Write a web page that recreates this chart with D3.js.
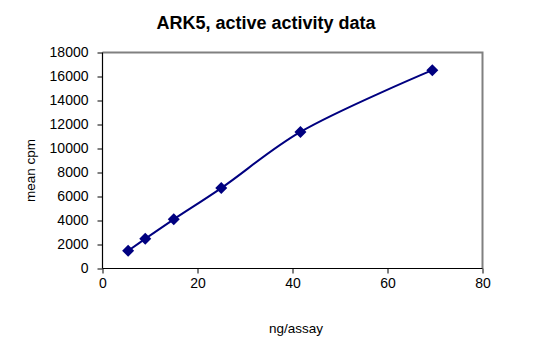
<!DOCTYPE html>
<html>
<head>
  <title>ARK5, active activity data</title>
  <script src="https://d3js.org/d3.v7.min.js"></script>
  <style>
    body { margin: 0; background: #fff; }
    text { font-family: "Liberation Sans", Arial, sans-serif; fill: #000; }
  </style>
</head>
<body>
  <svg id="chart" width="546" height="352"></svg>
  <script>
    // ng/assay (5/3 dilution series) and mean cpm
    const ngAssay = [5.4, 9, 15, 25, 41.67, 69.44];
    const meanCpm = [1480, 2480, 4100, 6700, 11380, 16530];
    const xTicks = [0, 20, 40, 60, 80];
    const yTicks = [0, 2000, 4000, 6000, 8000, 10000, 12000, 14000, 16000, 18000];

    const svg = d3.select("#chart");
    const plotL = 102.5, plotR = 482.5, plotT = 52.5, plotB = 268.5;

    const x = d3.scaleLinear().domain([0, 80]).range([plotL, plotR]);
    const y = d3.scaleLinear().domain([0, 18000]).range([plotB, plotT]);

    // title
    svg.append("text")
      .attr("x", 266).attr("y", 29)
      .attr("text-anchor", "middle")
      .style("font-size", "18px").style("font-weight", "bold")
      .text("ARK5, active activity data");

    // plot frame (top + right in grey)
    svg.append("path")
      .attr("d", `M${plotL},${plotT}H${plotR}V${plotB}`)
      .attr("fill", "none").attr("stroke", "#808080").attr("stroke-width", 2);

    // axes
    const yAxis = svg.append("g")
      .attr("transform", `translate(${plotL},0)`)
      .call(d3.axisLeft(y).tickValues(yTicks).tickSize(5).tickPadding(9).tickFormat(d3.format("d")));
    const xAxis = svg.append("g")
      .attr("transform", `translate(0,${plotB})`)
      .call(d3.axisBottom(x).tickValues(xTicks).tickSize(5).tickPadding(5).tickFormat(d3.format("d")));
    [xAxis, yAxis].forEach(g => {
      g.attr("font-family", null);
      g.select(".domain").attr("stroke", "#000").attr("stroke-width", 1.2);
      g.selectAll(".tick line").attr("stroke", "#000");
      g.selectAll("text").style("font-size", "14px");
    });
    xAxis.select(".domain").attr("d", `M${plotL},0H${plotR}`);
    yAxis.select(".domain").attr("d", `M0,${plotB}V${plotT}`);

    // axis titles
    svg.append("text")
      .attr("transform", `translate(35,${(plotT + plotB) / 2 + 10}) rotate(-90)`)
      .attr("text-anchor", "middle")
      .style("font-size", "13.5px")
      .text("mean cpm");
    svg.append("text")
      .attr("x", 296).attr("y", 333)
      .attr("text-anchor", "middle")
      .style("font-size", "13.5px")
      .text("ng/assay");

    // smoothed line
    const pts = ngAssay.map((v, i) => [v, meanCpm[i]]);
    const line = d3.line()
      .x(d => x(d[0])).y(d => y(d[1]))
      .curve(d3.curveCatmullRom.alpha(0.5));
    svg.append("path")
      .datum(pts)
      .attr("d", line)
      .attr("fill", "none")
      .attr("stroke", "#000080")
      .attr("stroke-width", 2);

    // diamond markers
    svg.selectAll(".marker")
      .data(pts)
      .enter()
      .append("path")
      .attr("class", "marker")
      .attr("transform", d => `translate(${x(d[0])},${y(d[1])})`)
      .attr("d", "M0,-6L6,0L0,6L-6,0Z")
      .attr("fill", "#000080");
  </script>
</body>
</html>
